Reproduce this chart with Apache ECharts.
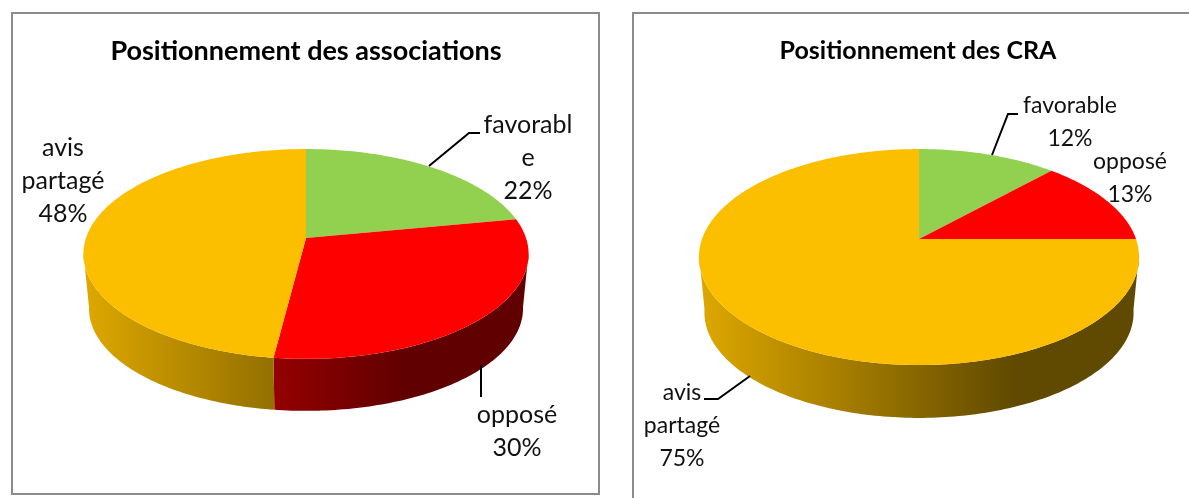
<!DOCTYPE html>
<html><head><meta charset="utf-8">
<style>html,body{margin:0;padding:0;background:#fff}#c{width:1189px;height:498px}</style>
<script src="https://cdn.jsdelivr.net/npm/echarts@6/dist/echarts.min.js"></script>
</head><body><div id="c"></div>
<script>
// --- data ---
var categoriesA = ['favorabl\ne', 'opposé', 'avis\npartagé'];
var valuesA = [22, 30, 48];
var categoriesB = ['favorable', 'opposé', 'avis\npartagé'];
var valuesB = [12, 13, 75];
var titleA = 'Positionnement des associations';
var titleB = 'Positionnement des CRA';
var sliceColors = [[146, 208, 80], [255, 0, 0], [252, 191, 0]];

// --- layout ---
var FONT = 'Lato, "Open Sans", sans-serif';
var pieA = {cx: 306, cy: 238, rx: 220, ry: 102.5, k: 0.152, s: 0.975, dy: 55, fontSize: 25,
  labels: [[528, 125], [517, 415], [63, 148]],
  leaders: [[[429, 166], [469, 133], [480, 133]], [[481, 365], [481, 397]]]};
var pieB = {cx: 919, cy: 239, rx: 217, ry: 105, k: 0.167, s: 0.975, dy: 56, fontSize: 23,
  labels: [[1070, 106], [1130, 162], [682, 393]],
  leaders: [[[992, 155], [1008, 114], [1018, 114]], [[750, 376], [718, 399], [704, 399]]]};

function project(p, deg) {
  var a = deg * Math.PI / 180, u = Math.sin(a), v = -Math.cos(a), w = 1 - p.k * v;
  return [p.cx + p.rx * u / w, p.cy + p.ry * v / w];
}
function under(p, q) {
  return [p.cx + p.s * (q[0] - p.cx), p.cy + p.s * (q[1] - p.cy) + p.dy];
}
function arc(p, a0, a1) {
  var pts = [], n = Math.max(2, Math.ceil(Math.abs(a1 - a0)));
  for (var i = 0; i <= n; i++) pts.push(project(p, a0 + (a1 - a0) * i / n));
  return pts;
}
function shadeGradient(p, rgb) {
  var left = p.cx - p.rx * 1.01, right = p.cx + p.rx * 1.01;
  function col(f) { return 'rgb(' + rgb.map(function (c) { return Math.round(c * f); }).join(',') + ')'; }
  return new echarts.graphic.LinearGradient(left, 0, right, 0, [
    {offset: 0, color: col(0.88)}, {offset: 0.72, color: col(0.38)}, {offset: 1, color: col(0.38)}
  ], true);
}
function makeSeries(p, cats, vals) {
  var total = vals.reduce(function (a, b) { return a + b; }, 0), acc = 0;
  var rows = vals.map(function (v) { var r = [v, acc]; acc += v; return r; });
  return {
    type: 'custom', coordinateSystem: 'none', data: rows, animation: false, silent: true,
    renderItem: function (params, api) {
      var i = params.dataIndex;
      var a0 = api.value(1) / total * 360, a1 = (api.value(1) + api.value(0)) / total * 360;
      var rgb = sliceColors[i], kids = [];
      var w0 = Math.max(a0, 98), w1 = Math.min(a1, 262);
      if (w1 > w0) {
        var topEdge = arc(p, w0, w1);
        var lowEdge = topEdge.map(function (q) { return under(p, q); }).reverse();
        kids.push({type: 'polygon', shape: {points: topEdge.concat(lowEdge)},
          style: {fill: shadeGradient(p, rgb), stroke: null}});
      }
      var face = [[p.cx, p.cy]].concat(arc(p, a0, a1));
      kids.push({type: 'polygon', z2: 5, shape: {points: face},
        style: {fill: 'rgb(' + rgb.join(',') + ')', stroke: null}});
      (i === 2 ? p.leaders : []).forEach(function (l) {
        kids.push({type: 'polyline', z2: 6, shape: {points: l},
          style: {stroke: '#000', lineWidth: 2, fill: null}});
      });
      kids.push({type: 'text', z2: 7, style: {
        text: cats[i] + '\n' + api.value(0) + '%',
        x: p.labels[i][0], y: p.labels[i][1] - 16.5,
        align: 'center', verticalAlign: 'top', fill: '#111',
        font: p.fontSize + 'px ' + FONT, lineHeight: 33}});
      return {type: 'group', children: kids};
    }
  };
}
function frameLine(x1, y1, x2, y2) {
  return {type: 'line', shape: {x1: x1, y1: y1, x2: x2, y2: y2},
    style: {stroke: '#8c8c8c', lineWidth: 2}, silent: true};
}
var chart = echarts.init(document.getElementById('c'), null, {renderer: 'canvas'});
function titleStyle(size) { return {fontFamily: FONT, fontWeight: 'bold', fontSize: size, color: '#000'}; }
chart.setOption({
  backgroundColor: '#fff',
  animation: false,
  title: [
    {text: titleA, left: 306, top: 38, textAlign: 'center', textStyle: titleStyle(27), padding: 0},
    {text: titleB, left: 918, top: 38, textAlign: 'center', textStyle: titleStyle(25), padding: 0}
  ],
  graphic: [
    frameLine(11, 13, 600, 13), frameLine(12, 12, 12, 495), frameLine(11, 494, 600, 494),
    frameLine(599, 12, 599, 495), frameLine(632, 13, 1189, 13), frameLine(633, 12, 633, 498)
  ],
  series: [makeSeries(pieA, categoriesA, valuesA), makeSeries(pieB, categoriesB, valuesB)]
});
</script></body></html>
